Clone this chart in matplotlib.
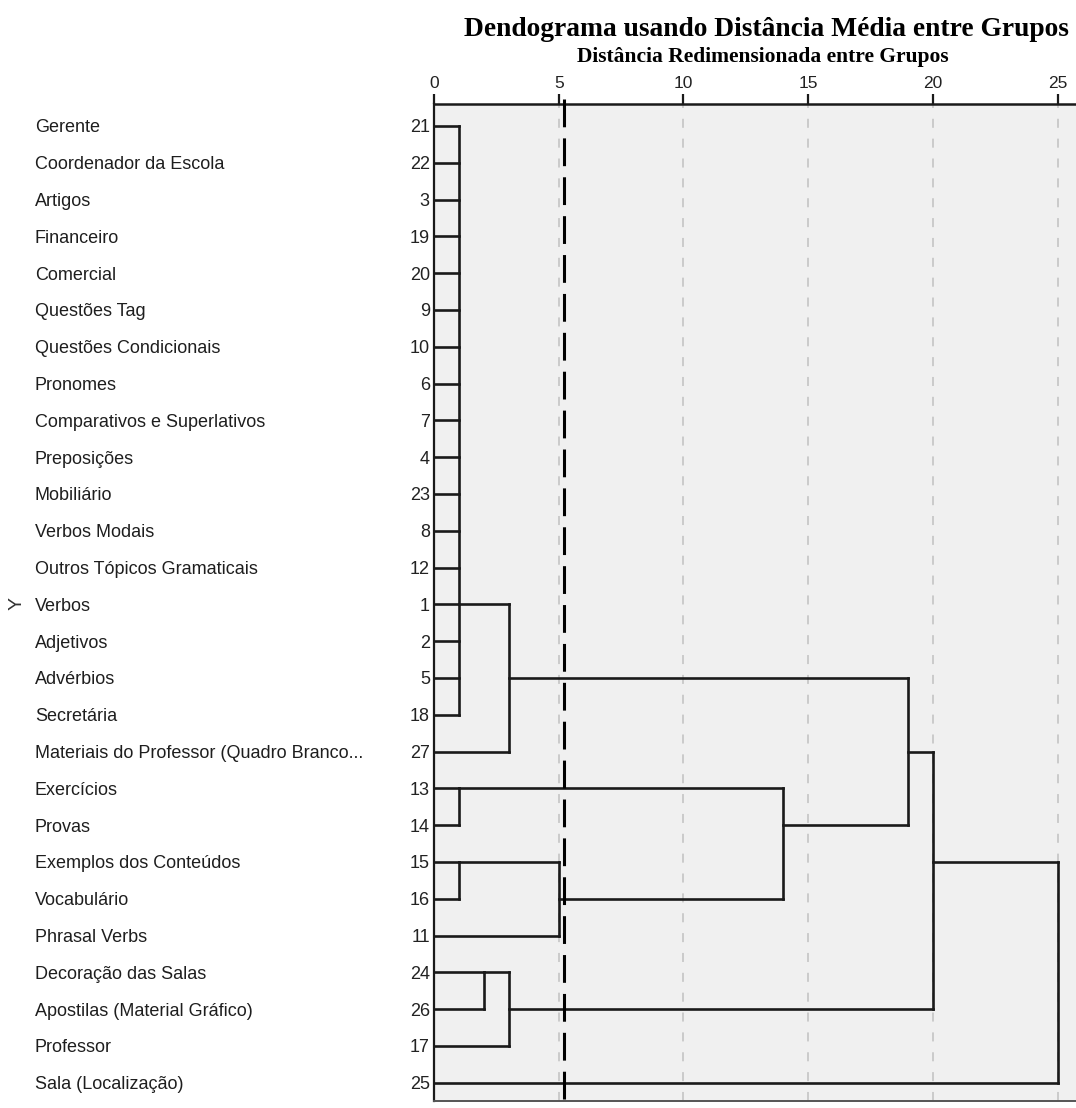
import math
import matplotlib
matplotlib.use("Agg")
import matplotlib.pyplot as plt
import matplotlib.transforms as mtransforms

# ---------------- data ----------------
labels = ["Gerente", "Coordenador da Escola", "Artigos", "Financeiro", "Comercial",
          "Questões Tag", "Questões Condicionais", "Pronomes",
          "Comparativos e Superlativos", "Preposições", "Mobiliário", "Verbos Modais",
          "Outros Tópicos Gramaticais", "Verbos", "Adjetivos", "Advérbios", "Secretária",
          "Materiais do Professor (Quadro Branco...", "Exercícios", "Provas",
          "Exemplos dos Conteúdos", "Vocabulário", "Phrasal Verbs",
          "Decoração das Salas", "Apostilas (Material Gráfico)", "Professor",
          "Sala (Localização)"]
case_ids = [21, 22, 3, 19, 20, 9, 10, 6, 7, 4, 23, 8, 12, 1, 2, 5, 18, 27,
            13, 14, 15, 16, 11, 24, 26, 17, 25]

# group joined at (rescaled) distance 1, its branch leaves at case 1 (Verbos)
group_A = [21, 22, 3, 19, 20, 9, 10, 6, 7, 4, 23, 8, 12, 1, 2, 5, 18]
group_A_exit = 1

# (new cluster, children, rescaled distance)
merges = [
    ("A", group_A, 1.0),
    ("B", ["A", 27], 3.0),
    ("C", [13, 14], 1.0),
    ("D", [15, 16], 1.0),
    ("E", ["D", 11], 5.0),
    ("F", ["C", "E"], 14.0),
    ("G", [24, 26], 2.0),
    ("H", ["G", 17], 3.0),
    ("I", ["B", "F"], 19.0),
    ("J", ["I", "H"], 20.0),
    ("K", ["J", 25], 25.0),
]
cut_distance = 5.2
x_ticks = [0, 5, 10, 15, 20, 25]

title = "Dendograma usando Distância Média entre Grupos"
subtitle = "Distância Redimensionada entre Grupos"
y_title = "Y"

# ---------------- figure ----------------
SANS = ["Liberation Sans", "DejaVu Sans"]
W, H = 1076, 1108
fig = plt.figure(figsize=(W / 100, H / 100), dpi=100)
fig.patch.set_facecolor("white")

ax_left, ax_right, ax_top, ax_bottom = 434, 1080, 104, 1101
ax = fig.add_axes([ax_left / W, 1 - ax_bottom / H,
                   (ax_right - ax_left) / W, (ax_bottom - ax_top) / H])
ax.set_facecolor("#f0f0f0")

px_per_unit = 24.94
ax.set_xlim(0, (ax_right - ax_left) / px_per_unit)
row0, row_step = 126, 36.8
ax.set_ylim(26 + (ax_bottom - (row0 + 26 * row_step)) / row_step,
            (ax_top - row0) / row_step)

# grid
for t in x_ticks[1:]:
    ax.axvline(t, color="#c8c8c8", lw=1.3, dashes=(5, 6), zorder=1)

# dendrogram
ypos = {cid: i for i, cid in enumerate(case_ids)}
xpos = {cid: 0.0 for cid in case_ids}
line_kw = dict(color="#1a1a1a", lw=1.9, solid_capstyle="projecting", zorder=3)
for name, children, dist in merges:
    ys = [ypos[c] for c in children]
    for c in children:
        ax.plot([xpos[c], dist], [ypos[c], ypos[c]], **line_kw)
    ax.plot([dist, dist], [min(ys), max(ys)], **line_kw)
    if len(children) > 2:
        ypos[name] = ypos[group_A_exit]
    else:
        ypos[name] = math.floor((ys[0] + ys[1]) / 2)
    xpos[name] = dist

# cut line
lw_cut = 2.2
ax.plot([cut_distance, cut_distance], [(99 - row0) / row_step, 27.5],
        color="black", lw=lw_cut, dashes=(20.0 / lw_cut, 8.0 / lw_cut),
        clip_on=False, zorder=4)

# spines & ticks
ax.spines["right"].set_visible(False)
ax.spines["top"].set_color("#1a1a1a")
ax.spines["top"].set_linewidth(1.8)
ax.spines["left"].set_color("#1a1a1a")
ax.spines["left"].set_linewidth(1.6)
ax.spines["bottom"].set_color("#555555")
ax.spines["bottom"].set_linewidth(1.4)

ax.xaxis.tick_top()
ax.set_xticks(x_ticks)
ax.set_xticklabels([str(t) for t in x_ticks], family=SANS)
ax.tick_params(axis="x", direction="out", length=7, width=1.6, color="#1a1a1a",
               labelsize=12.5, labelcolor="#222222", pad=2)

ax.set_yticks(range(len(case_ids)))
ax.set_yticklabels([str(c) for c in case_ids], family=SANS)
ax.tick_params(axis="y", length=0, labelsize=13, labelcolor="#222222", pad=3)

fig.text(17 / W, 1 - 604 / H, y_title, rotation=90, ha="center", va="center",
         family=SANS, fontsize=14, color="#333333")

trans = mtransforms.blended_transform_factory(fig.transFigure, ax.transData)
for i, lab in enumerate(labels):
    ax.text(35 / W, i, lab, transform=trans, ha="left", va="center_baseline",
            family=SANS, fontsize=13, color="#1e1e1e")

fig.text(766 / W, 1 - 29 / H, title, ha="center", va="center",
         family="Liberation Serif", weight="bold", fontsize=19.8, color="black")
fig.text(763 / W, 1 - 57 / H, subtitle, ha="center", va="center",
         family="Liberation Serif", weight="bold", fontsize=15.5, color="black")

fig.savefig("out.png", dpi=100, facecolor="white")
